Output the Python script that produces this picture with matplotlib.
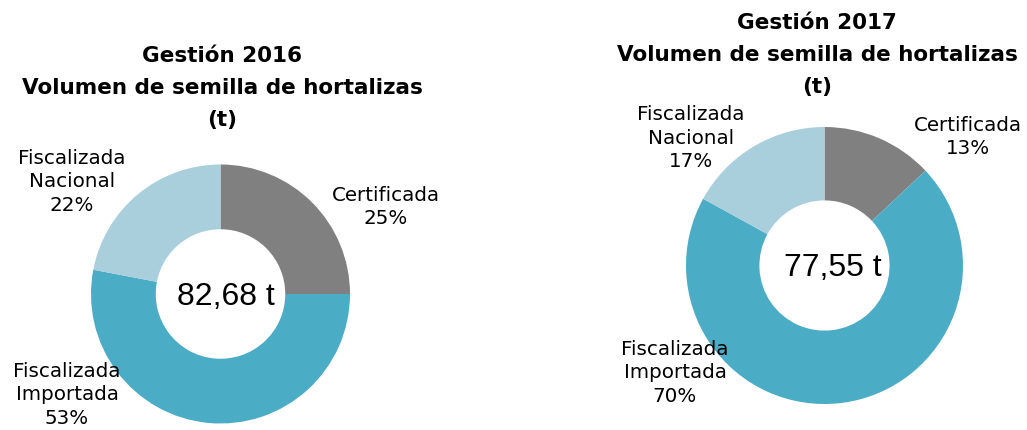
import matplotlib
matplotlib.use("Agg")
import matplotlib.pyplot as plt

# data
categories = ["Certificada", "Fiscalizada\nImportada", "Fiscalizada\nNacional"]
share_2016 = [25, 53, 22]
share_2017 = [13, 70, 17]
total_2016 = "82,68 t"
total_2017 = "77,55 t"
colors = ["#808080", "#4BACC6", "#A9CEDC"]

W, H = 1027, 430
fig = plt.figure(figsize=(W / 100, H / 100), dpi=100)


def px(x, y):
    # pixel coords (top-left origin) -> figure fraction
    return x / W, 1 - y / H


def donut(cx, cy, r, hole, values, total, year, title_xy, label_xy, tdx):
    ax = fig.add_axes([(cx - r) / W, (H - cy - r) / H, 2 * r / W, 2 * r / H])
    ax.pie(values, colors=colors, startangle=90, counterclock=False,
           radius=1, wedgeprops=dict(width=1 - hole, linewidth=0))
    ax.set_xlim(-1, 1)
    ax.set_ylim(-1, 1)
    ax.set_aspect("equal")
    ax.axis("off")
    ax.text(tdx, -0.02, total, ha="center", va="center", fontsize=23,
            family="Liberation Sans")
    title = "Gestión %s\nVolumen de semilla de hortalizas\n(t)" % year
    fig.text(*px(*title_xy), title, ha="center", va="center", fontsize=15.5,
             fontweight="bold", linespacing=1.76)
    for cat, v, (lx, ly) in zip(categories, values, label_xy):
        fig.text(*px(lx, ly), "%s\n%d%%" % (cat, v), ha="center",
                 va="center", fontsize=14.3, linespacing=1.3)


donut(220.5, 294, 129.5, 0.5, share_2016, total_2016, 2016, (222, 88),
      [(386, 207), (67, 395), (72, 182)], 0.04)
donut(824.5, 265.5, 138.5, 0.47, share_2017, total_2017, 2017, (817, 55),
      [(968, 137), (675, 373), (691, 138)], 0.06)

fig.savefig("out.png", dpi=100)
